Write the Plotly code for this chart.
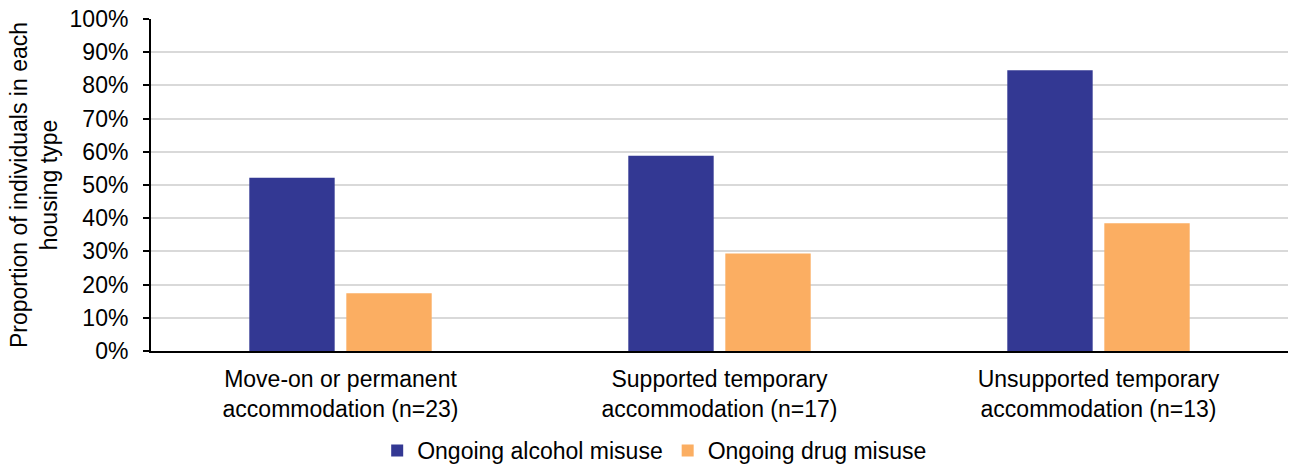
import plotly.graph_objects as go

categories = ["Move-on or permanent<br>accommodation (n=23)",
              "Supported temporary<br>accommodation (n=17)",
              "Unsupported temporary<br>accommodation (n=13)"]
alcohol = [0.522, 0.588, 0.846]
drug = [0.174, 0.294, 0.385]
tick_vals = [i / 10 for i in range(11)]
tick_text = [f"{i * 10}%" for i in range(11)]

FONT = "Liberation Sans, Arial, sans-serif"
FS = 23

fig = go.Figure()
fig.add_trace(go.Bar(x=categories, y=alcohol, name="Ongoing alcohol misuse",
                     marker=dict(color="#333893", line=dict(width=0))))
fig.add_trace(go.Bar(x=categories, y=drug, name="Ongoing drug misuse",
                     marker=dict(color="#FBAE62", line=dict(width=0))))

fig.update_layout(
    width=1290, height=472,
    margin=dict(l=151, r=2, t=19, b=121, autoexpand=False),
    paper_bgcolor="white", plot_bgcolor="white",
    font=dict(family=FONT, size=FS, color="black"),
    barmode="group", bargap=0.488, bargroupgap=0.12,
    showlegend=True,
    legend=dict(orientation="h", x=0.443, xanchor="center",
                yref="container", y=-0.016, yanchor="bottom",
                font=dict(size=FS), itemwidth=30, traceorder="normal"),
)
fig.update_yaxes(range=[0, 1], tickvals=tick_vals, ticktext=tick_text,
                 showgrid=True, gridcolor="#d9d9d9", gridwidth=2,
                 showline=True, linecolor="black", linewidth=2,
                 ticks="outside", ticklen=6, tickwidth=2, tickcolor="black",
                 ticklabelstandoff=10, automargin=False,
                 zeroline=False, tickfont=dict(size=FS),
                 title=dict(text="Proportion of individuals in each<br>housing type",
                            font=dict(size=FS), standoff=6))
fig.update_xaxes(showline=True, linecolor="black", linewidth=2, ticks="",
                 ticklabelstandoff=6, automargin=False,
                 tickfont=dict(size=FS))

fig.write_html("out.html")
